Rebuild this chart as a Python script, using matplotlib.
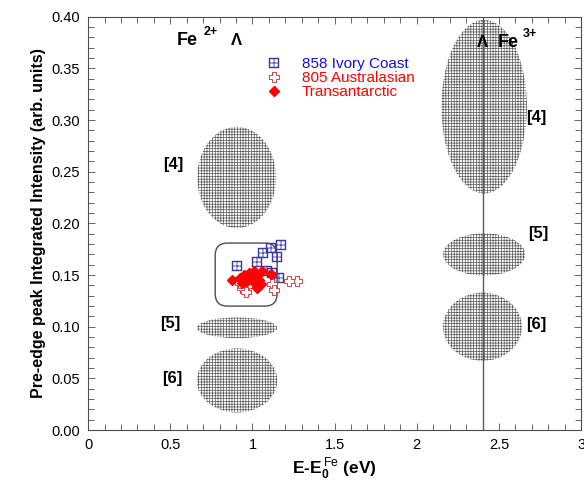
import numpy as np
import matplotlib
matplotlib.use("Agg")
import matplotlib.pyplot as plt
from matplotlib.patches import Ellipse, FancyBboxPatch
from matplotlib.ticker import MultipleLocator, FormatStrFormatter, FuncFormatter

plt.rcParams['font.family'] = ['Liberation Sans', 'DejaVu Sans']
plt.rcParams['mathtext.fontset'] = 'custom'
plt.rcParams['mathtext.rm'] = 'Liberation Sans'
plt.rcParams['mathtext.bf'] = 'Liberation Sans:bold'
plt.rcParams['hatch.linewidth'] = 0.5

# sample data
ivory_x = [1.176, 1.110, 1.063, 1.150, 1.029, 0.907, 1.089, 1.161, 1.120]
ivory_y = [0.179, 0.176, 0.171, 0.168, 0.163, 0.1585, 0.1537, 0.147, 0.152]

austral_x = [1.272, 1.221, 1.120, 1.130, 0.968, 0.937, 0.958, 0.927]
austral_y = [0.144, 0.1446, 0.141, 0.136, 0.139, 0.1375, 0.134, 0.142]

transant_x = [0.876, 1.110, 0.927, 0.947, 0.978, 1.008, 1.029, 1.039, 1.018,
              0.998, 0.968, 0.937, 1.049, 1.029, 0.988, 0.957, 1.059]
transant_y = [0.1456, 0.151, 0.147, 0.150, 0.152, 0.154, 0.150, 0.1456, 0.142,
              0.1456, 0.144, 0.142, 0.141, 0.1375, 0.149, 0.147, 0.1537]

# reference regions: (label, x centre, y centre, width, height)
region_labels = ['[4]', '[5]', '[6]', '[4]', '[5]', '[6]']
region_x = [0.904, 0.906, 0.906, 2.41, 2.41, 2.40]
region_y = [0.2445, 0.099, 0.048, 0.313, 0.170, 0.100]
region_w = [0.48, 0.49, 0.49, 0.52, 0.50, 0.48]
region_h = [0.098, 0.020, 0.062, 0.168, 0.041, 0.066]
label_x = [0.52, 0.50, 0.51, 2.73, 2.74, 2.73]
label_y = [0.257, 0.1036, 0.050, 0.303, 0.190, 0.102]

fe3_energy = 2.4
fe2_energy = 0.9

fig = plt.figure(figsize=(5.84, 4.8), dpi=100)
ax = fig.add_axes([0.151, 0.104, 0.844, 0.861])

for cx, cy, w, h in zip(region_x, region_y, region_w, region_h):
    e = Ellipse((cx, cy), w, h, facecolor='white', edgecolor='0.35',
                lw=0, hatch='++++++', zorder=1)
    ax.add_patch(e)
for lab, lx, ly in zip(region_labels, label_x, label_y):
    ax.text(lx, ly, lab, fontsize=12, fontweight='bold', ha='center', va='center')

ax.axvline(fe3_energy, color='0.35', lw=1, zorder=2)

# rounded box around the samples
box = FancyBboxPatch((0.773, 0.120), 1.150 - 0.773, 0.181 - 0.120,
                     boxstyle='round,pad=0,rounding_size=0.075',
                     mutation_aspect=164.3 / 1032.5,
                     facecolor='none', edgecolor='0.3', lw=1, zorder=2)
ax.add_patch(box)

h1, = ax.plot(ivory_x, ivory_y, ls='none', marker=r'$\boxplus$', ms=6.5,
              color='#3a3aa0', mew=0.3, zorder=3, label='858 Ivory Coast')
h2, = ax.plot(austral_x, austral_y, ls='none', marker='P', ms=7.5,
              mfc='white', mec='#c84848', mew=0.7, zorder=3,
              label='805 Australasian')
h3, = ax.plot(transant_x, transant_y, ls='none', marker='D', ms=5,
              color='red', zorder=4, label='Transantarctic')

leg = ax.legend(handles=[h1, h2, h3], loc='upper left',
                bbox_to_anchor=(0.361, 0.903), frameon=False, fontsize=11,
                labelspacing=0.0, handletextpad=1.35, handlelength=1.0,
                borderaxespad=0, borderpad=0, numpoints=1)
for t, c in zip(leg.get_texts(), ['#1010e0', 'red', 'red']):
    t.set_color(c)

# oxidation-state markers
ax.text(0.54, 0.377, 'Fe', fontsize=13, fontweight='bold', va='center')
ax.text(0.70, 0.385, '2+', fontsize=9, fontweight='bold', va='center')
ax.text(fe2_energy, 0.377, '\u039b', fontsize=12, fontweight='bold',
        ha='center', va='center')
ax.text(fe3_energy, 0.375, '\u039b', fontsize=12, fontweight='bold',
        ha='center', va='center', zorder=5)
ax.text(2.49, 0.375, 'Fe', fontsize=13, fontweight='bold', va='center')
ax.text(2.645, 0.383, '3+', fontsize=9, fontweight='bold', va='center')

ax.set_xlim(0, 3)
ax.set_ylim(0, 0.40)
ax.xaxis.set_major_locator(MultipleLocator(0.5))
ax.xaxis.set_minor_locator(MultipleLocator(0.1))
ax.yaxis.set_major_locator(MultipleLocator(0.05))
ax.yaxis.set_minor_locator(MultipleLocator(0.01))
ax.xaxis.set_major_formatter(FuncFormatter(lambda v, p: '%g' % v))
ax.yaxis.set_major_formatter(FormatStrFormatter('%.2f'))
ax.tick_params(which='both', direction='in', top=True, right=True,
               labelsize=10.5, width=0.6, color='0.3')
ax.tick_params(which='major', length=5, pad=6)
ax.tick_params(which='minor', length=4)
for s in ax.spines.values():
    s.set_linewidth(0.8)
    s.set_color('0.3')

ax.set_xlabel(r'E-E$_\mathbf{0}^{\,\mathrm{Fe}}$ (eV)', fontsize=12.5,
              fontweight='bold', labelpad=2)
ax.set_ylabel('Pre-edge peak Integrated Intensity (arb. units)', fontsize=11.5,
              fontweight='bold', labelpad=4)

fig.savefig('out.png', dpi=100)
